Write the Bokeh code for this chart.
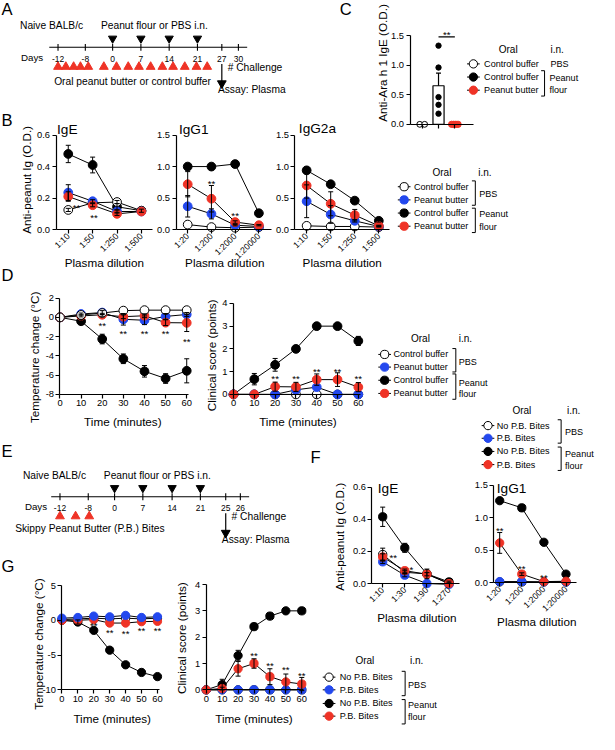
import math
import numpy as np
from bokeh.plotting import figure
from bokeh.models import (Range1d, FixedTicker, ColumnDataSource, Whisker, TeeHead,
                          LinearAxis, PrintfTickFormatter)
from bokeh.core.properties import value
from bokeh.embed import file_html
from bokeh.resources import INLINE

# ===================== DATA =====================
TIME = [0, 10, 20, 30, 40, 50, 60]

A_DAYS = ["-12", "-8", "0", "7", "14", "21", "27", "30"]
E_DAYS = ["-12", "-8", "0", "7", "14", "21", "25", "26"]

# B - IgE
B_IGE_DIL = ["1:10", "1:50", "1:250", "1:500"]
B_IGE_W = [0.125, 0.17, 0.175, 0.12]
B_IGE_W_SEM = [0.01, 0.0, 0.01, 0.0]
B_IGE_U = [0.235, 0.18, 0.115, 0.115]
B_IGE_U_SEM = [0.05, 0.01, 0.01, 0.0]
B_IGE_K = [0.48, 0.41, 0.145, 0.12]
B_IGE_K_SEM = [0.055, 0.05, 0.02, 0.01]
B_IGE_R = [0.21, 0.155, 0.10, 0.115]
B_IGE_R_SEM = [0.03, 0.01, 0.01, 0.0]
B_IGE_YT = [0.0, 0.2, 0.4, 0.6]
B_IGE_SIG_T = ["**", "**"]
B_IGE_SIG_X = [0.34, 1.06]
B_IGE_SIG_Y = [0.155, 0.09]

# B - IgG1
B_IGG1_DIL = ["1:20", "1:200", "1:2000", "1:20000"]
B_IGG1_W = [0.08, 0.04, 0.03, 0.04]
B_IGG1_W_SEM = [0.0, 0.0, 0.0, 0.0]
B_IGG1_U = [0.37, 0.25, 0.07, 0.05]
B_IGG1_U_SEM = [0.17, 0.08, 0.01, 0.0]
B_IGG1_K = [1.0, 1.0, 1.04, 0.26]
B_IGG1_K_SEM = [0.01, 0.01, 0.04, 0.03]
B_IGG1_R = [0.72, 0.49, 0.12, 0.07]
B_IGG1_R_SEM = [0.2, 0.21, 0.02, 0.01]
B_IGG_YT = [0.0, 0.5, 1.0, 1.5]
B_IGG1_SIG_T = ["**", "**"]
B_IGG1_SIG_X = [1.0, 2.0]
B_IGG1_SIG_Y = [0.77, 0.25]

# B - IgG2a
B_IGG2A_DIL = ["1:10", "1:50", "1:250", "1:500"]
B_IGG2A_W = [0.06, 0.05, 0.05, 0.04]
B_IGG2A_W_SEM = [0.0, 0.0, 0.0, 0.0]
B_IGG2A_U = [0.45, 0.24, 0.14, 0.05]
B_IGG2A_U_SEM = [0.26, 0.14, 0.02, 0.01]
B_IGG2A_K = [0.94, 0.72, 0.46, 0.14]
B_IGG2A_K_SEM = [0.05, 0.02, 0.02, 0.02]
B_IGG2A_R = [0.70, 0.41, 0.23, 0.06]
B_IGG2A_R_SEM = [0.2, 0.19, 0.09, 0.01]

# C - anti-Ara h 1 IgE, individual mice
C_CB_PBS = [0.0, 0.0]
C_CB_PF = [1.33, 0.96, 0.46, 0.33, 0.18]
C_PB_PF = [0.0, 0.0, 0.0, 0.0]
C_YT = [0.0, 0.5, 1.0, 1.5]

# D - temperature
D_T_W = [0.0, 0.25, 0.45, 0.7, 0.75, 0.75, 0.75]
D_T_W_SEM = [0, 0, 0, 0, 0, 0, 0]
D_T_U = [0.0, 0.35, 0.5, -0.2, -0.3, 0.1, 0.3]
D_T_U_SEM = [0, 0.1, 0.2, 0.6, 0.45, 0.3, 0.2]
D_T_K = [0.0, -0.4, -2.25, -4.3, -5.6, -6.35, -5.55]
D_T_K_SEM = [0, 0.15, 0.5, 0.5, 0.6, 0.5, 1.25]
D_T_R = [0.0, 0.15, 0.27, 0.07, 0.17, -0.55, -0.57]
D_T_R_SEM = [0, 0.1, 0.15, 0.2, 0.2, 0.3, 0.9]
D_T_YT = [-8, -6, -4, -2, 0, 2]
D_T_SIG_T = ["**", "**", "**", "**", "**"]
D_T_SIG_X = [20, 30, 40, 50, 60]
D_T_SIG_Y = [-0.6, -1.5, -1.5, -1.5, -2.3]

# D - clinical score
D_C_W = [0, 0, 0, 0, 0, 0, 0]
D_C_W_SEM = [0, 0, 0, 0, 0, 0, 0]
D_C_U = [0, 0, 0, 0.2, 0.32, 0, 0]
D_C_U_SEM = [0, 0, 0, 0, 0, 0, 0]
D_C_K = [0, 0.67, 1.3, 2.0, 3.0, 3.0, 2.35]
D_C_K_SEM = [0, 0.25, 0.28, 0, 0, 0, 0.2]
D_C_R = [0, 0, 0.34, 0.33, 0.65, 0.65, 0.32]
D_C_R_SEM = [0, 0, 0.2, 0.2, 0.25, 0.3, 0.2]
CLIN_YT = [0, 1, 2, 3, 4]
D_C_SIG_T = ["**", "**", "**", "**", "**"]
D_C_SIG_X = [20, 30, 40, 50, 60]
D_C_SIG_Y = [0.77, 0.78, 1.1, 1.1, 0.78]

# F - IgE
F_IGE_DIL = ["1:10", "1:30", "1:90", "1:270"]
F_IGE_W = [0.18, 0.07, 0.06, 0.0]
F_IGE_W_SEM = [0.04, 0.01, 0.0, 0.0]
F_IGE_U = [0.135, 0.052, 0.0, -0.005]
F_IGE_U_SEM = [0.01, 0.01, 0.0, 0.0]
F_IGE_K = [0.415, 0.222, 0.06, 0.01]
F_IGE_K_SEM = [0.06, 0.028, 0.03, 0.005]
F_IGE_R = [0.165, 0.08, 0.058, 0.0]
F_IGE_R_SEM = [0.02, 0.01, 0.01, 0.0]
F_IGE_SIG_T = ["**", "*"]
F_IGE_SIG_X = [0.48, 1.3]
F_IGE_SIG_Y = [0.176, 0.097]

# F - IgG1
F_IGG1_DIL = ["1:20", "1:200", "1:2000", "1:20000"]
F_IGG1_W = [0.01, 0.01, 0.01, 0.01]
F_IGG1_W_SEM = [0, 0, 0, 0]
F_IGG1_U = [0.015, 0.015, 0.01, 0.01]
F_IGG1_U_SEM = [0, 0, 0, 0]
F_IGG1_K = [1.26, 1.15, 0.62, 0.13]
F_IGG1_K_SEM = [0.02, 0.02, 0.02, 0.02]
F_IGG1_R = [0.61, 0.13, 0.015, 0.02]
F_IGG1_R_SEM = [0.16, 0.02, 0.0, 0.0]
F_IGG1_SIG_T = ["**", "**", "**"]
F_IGG1_SIG_X = [0.0, 1.0, 2.0]
F_IGG1_SIG_Y = [0.83, 0.24, 0.105]

# G - temperature
G_T_W = [0.1, 0.2, 0.3, 0.2, 0.3, 0.2, 0.3]
G_T_W_SEM = [0, 0, 0, 0, 0, 0, 0]
G_T_U = [0.3, 0.4, 0.6, 0.5, 0.7, 0.4, 0.5]
G_T_U_SEM = [0, 0, 0, 0, 0, 0, 0]
G_T_K = [0.0, -0.25, -1.45, -4.3, -6.4, -7.5, -8.1]
G_T_K_SEM = [0, 0.3, 0.2, 0.2, 0.2, 0.2, 0.2]
G_T_R = [0.0, 0.0, 0.1, -0.4, -0.4, -0.2, -0.15]
G_T_R_SEM = [0, 0, 0, 0, 0, 0, 0]
G_T_YT = [-10, -5, 0, 5]
G_T_SIG_T = ["**", "**", "**", "**", "**"]
G_T_SIG_X = [20, 30, 40, 50, 60]
G_T_SIG_Y = [-0.5, -1.4, -1.6, -1.2, -1.2]

# G - clinical score
G_C_W = [0, 0, 0, 0, 0, 0, 0]
G_C_U = [0, 0, 0, 0, 0, 0, 0]
G_C_ZERO_SEM = [0, 0, 0, 0, 0, 0, 0]
G_C_K = [0, 0.2, 1.3, 2.4, 2.8, 3.0, 3.0]
G_C_K_SEM = [0, 0.2, 0.2, 0, 0, 0, 0]
G_C_R = [0, 0.05, 0.8, 1.0, 0.5, 0.3, 0.22]
G_C_R_SEM = [0, 0.05, 0.28, 0.18, 0.3, 0.3, 0.25]
G_C_SIG_T = ["**", "**", "**", "**"]
G_C_SIG_X = [30, 40, 50, 60]
G_C_SIG_Y = [1.37, 1.0, 0.84, 0.63]

LEG_ORAL_B = ["Control buffer", "Peanut butter", "Control buffer", "Peanut butter"]
LEG_ORAL_E = ["No P.B. Bites", "P.B. Bites", "No P.B. Bites", "P.B. Bites"]
LEG_ORAL_C = ["Control buffer", "Control buffer", "Peanut butter"]

# ===================== STYLE / LAYOUT =====================
FONT = "Liberation Sans"
S = 0.975                      # reference px -> page px
OX, OY = 2.0, 5.0              # reference px at the page's top-left
W, H = 599, 734
X0, X1 = OX, OX + W / S        # reference px at frame left / right
Y0, Y1 = OY, OY + H / S        # reference px at frame top / bottom
RED = "#ef3326"
BLUE = "#2348ee"
PAL = {"w": ("white", "black"), "u": (BLUE, BLUE), "k": ("black", "black"), "r": (RED, RED)}


def fs(v):
    return f"{v * S:.2f}px"


P = figure(width=W, height=H, x_range=Range1d(X0, X1), y_range=Range1d(Y1, Y0),
           min_border_left=0, min_border_right=0, min_border_top=0, min_border_bottom=0,
           x_axis_type=None, y_axis_type=None, output_backend="svg", toolbar_location=None,
           outline_line_color=None, background_fill_color="white", border_fill_color="white")
P.grid.visible = False
if P.title is not None:
    P.title.visible = False


def ctext(x, y, t, size, align="left", angle=0.0):
    P.text(x=[x], y=[y], text=[t], text_font=value(FONT), text_font_size=fs(size),
           text_align=align, text_baseline="middle", text_color="black", angle=angle)


class Chart:
    """A panel with its own scales: value <-> reference-pixel mapping via extra ranges."""
    count = 0

    def __init__(self, xmap, ymap):
        xv1, xp1, xv2, xp2 = xmap
        yv1, yp1, yv2, yp2 = ymap
        kx = (xp2 - xp1) / (xv2 - xv1)
        ky = (yp2 - yp1) / (yv2 - yv1)
        self.ix = lambda p: xv1 + (p - xp1) / kx
        self.iy = lambda p: yv1 + (p - yp1) / ky
        Chart.count += 1
        self.xn = f"x{Chart.count}"
        self.yn = f"y{Chart.count}"
        P.extra_x_ranges[self.xn] = Range1d(self.ix(X0), self.ix(X1))
        P.extra_y_ranges[self.yn] = Range1d(self.iy(Y1), self.iy(Y0))
        self.kw = dict(x_range_name=self.xn, y_range_name=self.yn)

    def axes(self, xticks, xlabels, x_fixed, xbounds, yticks, yfmt, y_fixed, ybounds, rotate=False):
        xa = LinearAxis(fixed_location=x_fixed, bounds=xbounds, **self.kw)
        ya = LinearAxis(fixed_location=y_fixed, bounds=ybounds, **self.kw)
        for ax in (xa, ya):
            ax.major_tick_in = 0
            ax.major_tick_out = 4
            ax.minor_tick_in = 0
            ax.minor_tick_out = 0
            ax.axis_line_width = 1.2
            ax.major_tick_line_width = 1.2
            ax.axis_line_color = "black"
            ax.major_tick_line_color = "black"
            ax.major_label_text_font = FONT
            ax.major_label_text_font_size = fs(9.6)
            ax.major_label_text_color = "black"
        xa.major_label_standoff = 2
        ya.major_label_standoff = 2
        xa.ticker = FixedTicker(ticks=xticks, minor_ticks=[])
        if xlabels is not None:
            xa.major_label_overrides = {t: l for t, l in zip(xticks, xlabels)}
        else:
            xa.formatter = PrintfTickFormatter(format="%d")
        ya.ticker = FixedTicker(ticks=yticks, minor_ticks=[])
        ya.formatter = PrintfTickFormatter(format=yfmt)
        if rotate:
            xa.major_label_orientation = math.pi / 4
            xa.major_label_text_font_size = fs(9.0)
            xa.major_label_standoff = 1
        P.add_layout(xa, "below")
        P.add_layout(ya, "left")

    def series(self, xs, series, size):
        for key, vals, sems in series:
            P.line(xs, vals, line_color="black", line_width=1, **self.kw)
        for key, vals, sems in series:
            idx = [i for i, s in enumerate(sems) if s > 0]
            if idx:
                src = ColumnDataSource(dict(b=[xs[i] for i in idx],
                                            up=[vals[i] + sems[i] for i in idx],
                                            lo=[vals[i] - sems[i] for i in idx]))
                P.add_layout(Whisker(source=src, base="b", upper="up", lower="lo",
                                     line_color="black", line_width=1, level="glyph",
                                     upper_head=TeeHead(size=5, line_color="black", line_width=1),
                                     lower_head=TeeHead(size=5, line_color="black", line_width=1),
                                     **self.kw))
        for key, vals, sems in series:
            fill, edge = PAL[key]
            P.scatter(xs, vals, size=size * S, marker="circle",
                      fill_color=fill, line_color=edge, line_width=1, **self.kw)

    def sig(self, xs, ys, ts, size=10):
        if not xs:
            return
        src = ColumnDataSource(dict(x=xs, y=ys, t=ts))
        P.text(x="x", y="y", text="t", source=src, text_align="center", text_baseline="middle",
               y_offset=2, text_font=value(FONT), text_font_size=fs(size), text_color="black",
               **self.kw)


def dil_chart(ax_box, xmap, ymap, dil, yt, series, ttl, tpos, sigs, xlab_pos, ylab=None, size=9):
    c = Chart(xmap, ymap)
    xs = list(range(len(dil)))
    c.axes(xs, dil, 0, (c.ix(ax_box[0]), c.ix(ax_box[1])), yt, "%.1f", c.ix(ax_box[0]),
           (yt[0], yt[-1]), rotate=True)
    c.series(xs, series, size)
    c.sig(*sigs)
    ctext(tpos[0], tpos[1], ttl, 14)
    ctext(xlab_pos[0], xlab_pos[1], "Plasma dilution", 12, align="center")
    if ylab is not None:
        ctext(ylab[0], ylab[1], "Anti-peanut Ig (O.D.)", 12, align="center", angle=math.pi / 2)
    return c


def time_chart(xmap, ymap, yt, series, sigs, ylab_text, ylab_pos, xlab_pos, size=9):
    c = Chart(xmap, ymap)
    c.axes(TIME, None, yt[0], (0, 61), yt, "%d", 0, (yt[0], yt[-1]))
    c.series(TIME, series, size)
    c.sig(*sigs)
    ctext(xlab_pos[0], xlab_pos[1], "Time (minutes)", 12, align="center")
    ctext(ylab_pos[0], ylab_pos[1], ylab_text, 12, align="center", angle=math.pi / 2)
    return c


# ---------- Panel B ----------
dil_chart((59, 158), (0, 71.5, 3, 146.5), (0, 240, 0.6, 143), B_IGE_DIL, B_IGE_YT,
          [("k", B_IGE_K, B_IGE_K_SEM), ("w", B_IGE_W, B_IGE_W_SEM),
           ("u", B_IGE_U, B_IGE_U_SEM), ("r", B_IGE_R, B_IGE_R_SEM)],
          "IgE", (60, 137), (B_IGE_SIG_X, B_IGE_SIG_Y, B_IGE_SIG_T), (108.5, 273.5), ylab=(28.5, 189))
dil_chart((182, 280), (0, 194, 3, 267), (0, 240, 1.5, 143), B_IGG1_DIL, B_IGG_YT,
          [("w", B_IGG1_W, B_IGG1_W_SEM), ("u", B_IGG1_U, B_IGG1_U_SEM),
           ("k", B_IGG1_K, B_IGG1_K_SEM), ("r", B_IGG1_R, B_IGG1_R_SEM)],
          "IgG1", (185, 137), (B_IGG1_SIG_X, B_IGG1_SIG_Y, B_IGG1_SIG_T), (232, 273.5))
dil_chart((304, 401), (0, 316, 3, 390), (0, 240, 1.5, 143), B_IGG2A_DIL, B_IGG_YT,
          [("w", B_IGG2A_W, B_IGG2A_W_SEM), ("u", B_IGG2A_U, B_IGG2A_U_SEM),
           ("k", B_IGG2A_K, B_IGG2A_K_SEM), ("r", B_IGG2A_R, B_IGG2A_R_SEM)],
          "IgG2a", (308, 136), ([], [], []), (352.5, 273.5))

# ---------- Panel C ----------
cC = Chart((0, 434.5, 2, 468), (0, 132, 1.5, 41))
cC.axes([0, 1, 2], ["", "", ""], 0, (cC.ix(422), cC.ix(487)), C_YT, "%.1f", cC.ix(422), (0, 1.5))
c_mean = float(np.mean(C_CB_PF))
c_sem = float(np.std(C_CB_PF, ddof=1) / np.sqrt(len(C_CB_PF)))
P.vbar(x=[1], top=[c_mean], width=0.68, fill_color="white", line_color="black", line_width=1.2,
       **cC.kw)
P.add_layout(Whisker(source=ColumnDataSource(dict(b=[1], up=[c_mean + c_sem], lo=[c_mean])),
                     base="b", upper="up", lower="lo", line_color="black", line_width=1.2,
                     level="glyph",
                     upper_head=TeeHead(size=5, line_color="black", line_width=1.2), lower_head=None,
                     **cC.kw))


def swarm(n, step):
    return [(i - (n - 1) / 2) * step for i in range(n)]


P.scatter([0 + d for d in swarm(len(C_CB_PBS), 0.3)], C_CB_PBS, size=6 * S, fill_color="white",
          line_color="black", line_width=1, **cC.kw)
P.scatter([1] * len(C_CB_PF), C_CB_PF, size=5.5 * S, color="black", **cC.kw)
P.scatter([2 + d for d in swarm(len(C_PB_PF), 0.13)], C_PB_PF, size=6.5 * S, color=RED, **cC.kw)
P.segment(x0=[1], y0=[1.48], x1=[2], y1=[1.48], line_color="black", line_width=1.2, **cC.kw)
cC.sig([1.5], [1.56], ["**"])
ctext(393.5, 69, "Anti-Ara h 1 IgE (O.D.)", 12, align="center", angle=math.pi / 2)

# ---------- Panel D ----------
time_chart((0, 63, 60, 193), (0, 330, -8, 409), D_T_YT,
           [("k", D_T_K, D_T_K_SEM), ("u", D_T_U, D_T_U_SEM),
            ("r", D_T_R, D_T_R_SEM), ("w", D_T_W, D_T_W_SEM)],
           (D_T_SIG_X, D_T_SIG_Y, D_T_SIG_T), "Temperature change (°C)", (37, 371), (127.5, 437))
time_chart((0, 241, 60, 369), (0, 409, 3, 339), CLIN_YT,
           [("w", D_C_W, D_C_W_SEM), ("k", D_C_K, D_C_K_SEM),
            ("u", D_C_U, D_C_U_SEM), ("r", D_C_R, D_C_R_SEM)],
           (D_C_SIG_X, D_C_SIG_Y, D_C_SIG_T), "Clinical score (points)", (218.5, 369), (307, 437))

# ---------- Panel F ----------
dil_chart((383, 473), (0, 394, 3, 462), (0, 603, 0.6, 504), F_IGE_DIL, B_IGE_YT,
          [("w", F_IGE_W, F_IGE_W_SEM), ("u", F_IGE_U, F_IGE_U_SEM),
           ("k", F_IGE_K, F_IGE_K_SEM), ("r", F_IGE_R, F_IGE_R_SEM)],
          "IgE", (389, 505), (F_IGE_SIG_X, F_IGE_SIG_Y, F_IGE_SIG_T), (429, 638),
          ylab=(350, 555), size=8.5)
dil_chart((508, 593), (0, 514, 3, 582), (0, 602, 1.5, 502), F_IGG1_DIL, B_IGG_YT,
          [("w", F_IGG1_W, F_IGG1_W_SEM), ("u", F_IGG1_U, F_IGG1_U_SEM),
           ("k", F_IGG1_K, F_IGG1_K_SEM), ("r", F_IGG1_R, F_IGG1_R_SEM)],
          "IgG1", (511, 505), (F_IGG1_SIG_X, F_IGG1_SIG_Y, F_IGG1_SIG_T), (552, 642), size=8.5)

# ---------- Panel G ----------
time_chart((0, 65, 60, 163), (5, 605, -10, 712), G_T_YT,
           [("w", G_T_W, G_T_W_SEM), ("k", G_T_K, G_T_K_SEM),
            ("r", G_T_R, G_T_R_SEM), ("u", G_T_U, G_T_U_SEM)],
           (G_T_SIG_X, G_T_SIG_Y, G_T_SIG_T), "Temperature change (°C)", (41, 665), (116.5, 741),
           size=8.5)
time_chart((0, 213, 60, 311), (0, 712, 4, 604), CLIN_YT,
           [("w", G_C_W, G_C_ZERO_SEM), ("k", G_C_K, G_C_K_SEM),
            ("u", G_C_U, G_C_ZERO_SEM), ("r", G_C_R, G_C_R_SEM)],
           (G_C_SIG_X, G_C_SIG_Y, G_C_SIG_T), "Clinical score (points)", (187.5, 659), (262, 741),
           size=8.5)

# ===================== schematics, legends, panel letters =====================
for t, x, y in [("A", 3, 14), ("B", 3, 128), ("C", 350, 14.5), ("D", 3, 287),
                ("E", 3, 468), ("F", 320, 474), ("G", 3, 585)]:
    ctext(x, y, t, 17)


def schematic(y_top, tick_pos, days, oral_pos, arrow_x, texts, oral_text, oral_text_pos):
    y_tri = y_top + 13
    y_line = y_top + 22
    ctext(texts[0], y_top, "Naive BALB/c", 10.5)
    ctext(texts[1], y_top, "Peanut flour or PBS i.n.", 10.5)
    P.scatter(x=tick_pos[2:6], y=[y_tri] * 4, marker="inverted_triangle", size=8.5 * S, color="black")
    P.segment(x0=[tick_pos[0] - 9], y0=[y_line], x1=[tick_pos[-1] + 9], y1=[y_line],
              line_color="black", line_width=1.1)
    P.segment(x0=tick_pos, y0=[y_line - 3.5] * len(tick_pos), x1=tick_pos,
              y1=[y_line + 3.5] * len(tick_pos), line_color="black", line_width=1.1)
    ctext(texts[2], y_line + 10, "Days", 10)
    for x, d in zip(tick_pos, days):
        ctext(x, y_line + 12, d, 8.7, align="center")
    P.scatter(x=oral_pos, y=[y_line + 20] * len(oral_pos), marker="triangle", size=9 * S, color=RED)
    ctext(arrow_x + 6, y_line + 20.5, "# Challenge", 10.5)
    ctext(oral_text_pos[0], oral_text_pos[1], oral_text, 10.5)
    P.segment(x0=[arrow_x], y0=[y_line + 17], x1=[arrow_x], y1=[y_line + 36], line_color="black",
              line_width=1.2)
    P.scatter(x=[arrow_x], y=[y_line + 37], marker="inverted_triangle", size=9 * S, color="black")
    ctext(arrow_x - 4, y_line + 43.5, "Assay: Plasma", 10.5)


schematic(31, [61, 89, 117, 146, 175, 204, 229, 246], A_DAYS,
          [61, 69, 77, 84, 92, 108, 121, 133, 144, 156, 168, 179, 191, 203, 214], 229,
          (22, 105, 23), "Oral peanut butter or control buffer", (57, 88))
schematic(492, [63, 92, 119, 148, 178, 207, 233, 248], E_DAYS,
          [63, 79, 93], 233,
          (25, 108, 27), "Skippy Peanut Butter (P.B.) Bites", (17, 547))


def legend(hdr, mk_x, tx_x, rows_y, labels, kinds, groups, size=9.3):
    ox, inx, hy = hdr
    ctext(ox, hy, "Oral", 10.3)
    ctext(inx, hy, "i.n.", 10.3)
    for y, lab, k in zip(rows_y, labels, kinds):
        fill, edge = PAL[k]
        P.segment(x0=[mk_x - 6.5], y0=[y], x1=[mk_x + 6.5], y1=[y], line_color="black", line_width=1)
        P.scatter(x=[mk_x], y=[y], size=8.5 * S, fill_color=fill, line_color=edge, line_width=1)
        ctext(tx_x, y, lab, size)
    for bx, y0, y1, tx, lines in groups:
        if bx is not None:
            P.line(x=[bx - 3.5, bx, bx, bx - 3.5], y=[y0, y0, y1, y1], line_color="black", line_width=1)
        for ty, t in lines:
            ctext(tx, ty, t, size)


legend((513, 566, 55), 487, 498, [70, 83.5, 97], LEG_ORAL_C, ["w", "k", "r"],
       [(None, 0, 0, 566, [(70, "PBS")]), (560, 77, 103, 565, [(84, "Peanut"), (97, "flour")])])
legend((445, 492, 181), 416, 426, [196, 209.5, 223, 236.5], LEG_ORAL_B, ["w", "u", "k", "r"],
       [(489, 190, 215, 493, [(203, "PBS")]), (489, 218, 243, 493, [(224, "Peanut"), (237, "flour")])])
legend((423, 472, 352), 396, 405, [368, 381, 394.5, 408], LEG_ORAL_B, ["w", "u", "k", "r"],
       [(469, 362, 386, 472, [(376, "PBS")]), (469, 388, 414, 472, [(397, "Peanut"), (409, "flour")])])
legend((527, 583, 425), 502, 511, [441, 454, 467.5, 481], LEG_ORAL_E, ["w", "u", "k", "r"],
       [(577, 435, 459, 581, [(448, "PBS")]), (577, 463, 487, 581, [(470, "Peanut"), (482, "flour")])])
legend((366, 422, 682), 339, 350, [699, 712, 726, 739], LEG_ORAL_E, ["w", "u", "k", "r"],
       [(417, 693, 718, 420, [(707, "PBS")]), (417, 722, 747, 420, [(728, "Peanut"), (740, "flour")])])

open("out.html", "w").write(file_html(P, INLINE, "Peanut butter figure"))
